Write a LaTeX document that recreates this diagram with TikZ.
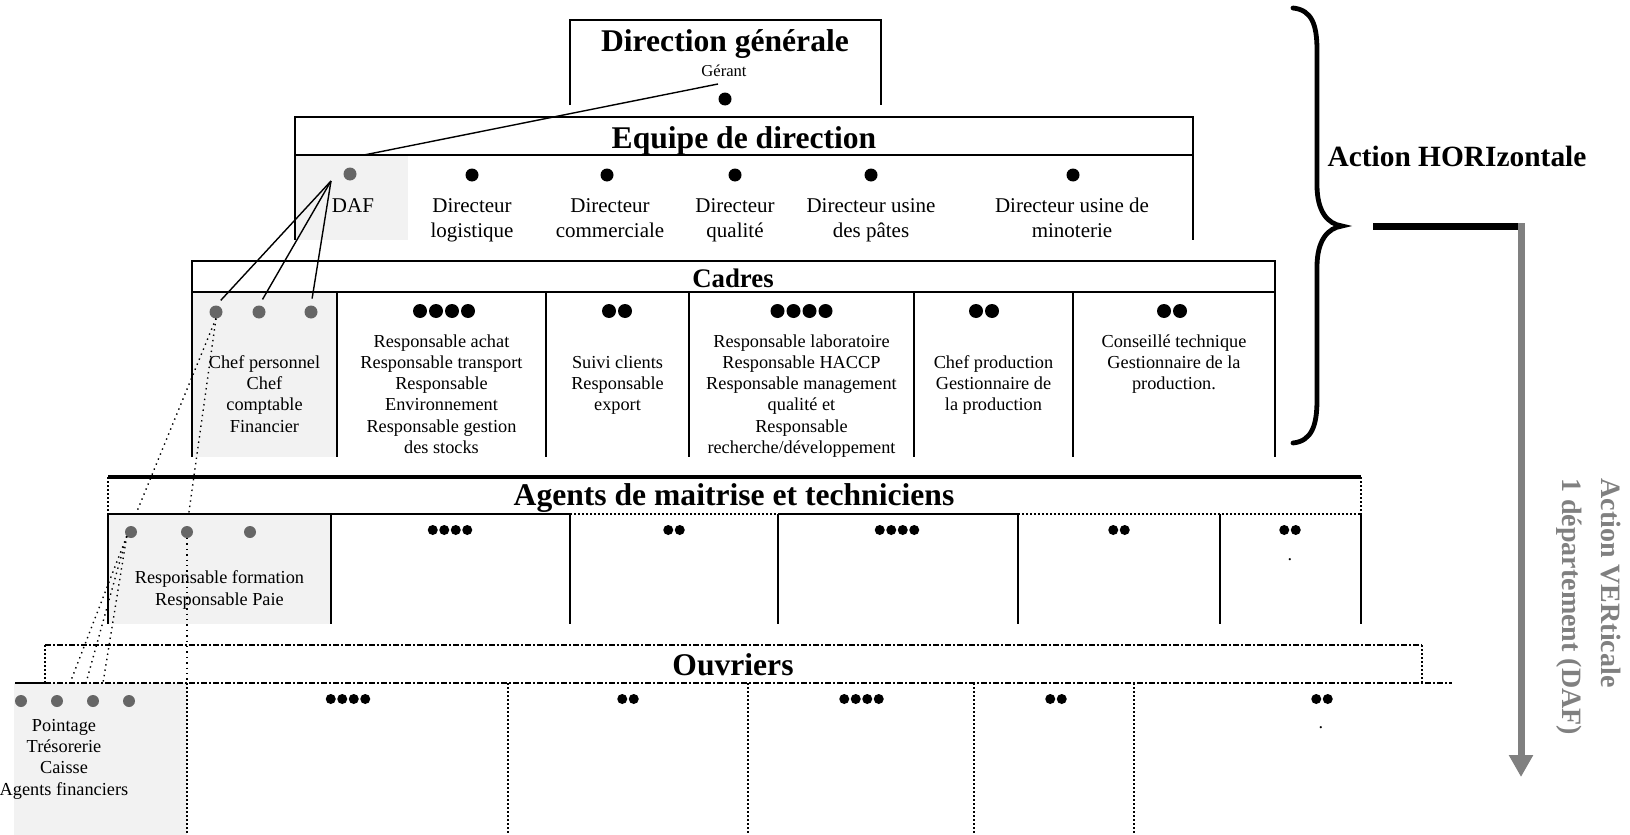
\documentclass[tikz,border=0pt]{standalone}
\usepackage{fontspec}
\setmainfont{Liberation Serif}
\usetikzlibrary{arrows.meta}
\definecolor{dafgray}{HTML}{666666}
\definecolor{cellgray}{HTML}{F2F2F2}
\definecolor{arrowgray}{HTML}{808080}
\newcommand{\fhead}{\fontsize{15.8}{18}\selectfont\bfseries}
\newcommand{\fcadres}{\fontsize{13.4}{16}\selectfont\bfseries}
\newcommand{\fequipe}{\fontsize{10.5}{12.5}\selectfont}
\newcommand{\fbody}{\fontsize{9.15}{10.65}\selectfont}
\newcommand{\fgerant}{\fontsize{8.3}{10}\selectfont}
\newcommand{\faction}{\fontsize{14.7}{17}\selectfont\bfseries}
\newcommand{\fvert}{\fontsize{14}{19.5}\selectfont\bfseries}
\tikzset{
  dot/.style = {circle, fill, minimum size=#1,
                inner sep=0pt, outer sep=0pt},
  dot/.default = 6pt,
  graydot/.style = {dot=#1, fill=dafgray},
  boxline/.style = {line width=1pt},
  dotline/.style = {line width=1pt, densely dotted},
  dashline/.style = {line width=1pt, densely dash dot},
  link/.style = {line width=0.7pt},
  dotlink/.style = {line width=0.7pt, dotted},
  title/.style = {font=\fhead, anchor=base, inner sep=0pt},
  txtequipe/.style = {font=\fequipe, anchor=base, align=center, inner sep=0pt},
  txtbody/.style = {font=\fbody, anchor=base, align=center, inner sep=0pt}
}
\begin{document}
\begin{tikzpicture}[x=0.5pt, y=-0.5pt]
	\def \rbig{7}
	\def \rmid{6.5}
	\def \rsmall{5}
	\useasboundingbox (0,0) rectangle (1630,835);

	% Gray cells (DAF column)
	\fill[cellgray] (295,155) rectangle (408,240);
	\fill[cellgray] (192,292) rectangle (337,457);
	\fill[cellgray] (109,514) rectangle (331,624);
	\fill[cellgray] (14,683) rectangle (187,835);

	% Direction generale
	\draw[boxline] (570,105) -- (570,20) -- (881,20) -- (881,105);
	\node[title] (dg) at (725,51) {Direction générale};
	\node[font=\fgerant, anchor=base, inner sep=0pt] (gerant) at (724,76) {Gérant};
	\fill (725,99) circle (\rmid);

	% Equipe de direction (base = last line)
	\draw[boxline] (295,240) -- (295,117) -- (1193,117) -- (1193,240);
	\draw[boxline] (295,155) -- (1193,155);
	\node[title] (equipe) at (744,148) {Equipe de direction};
	\node[graydot=6.5pt] (daf) at (350,174) {};
	\fill (472,175) circle (\rmid); % logistique
	\fill (607,175) circle (\rmid); % commerciale
	\fill (735,175) circle (\rmid); % qualite
	\fill (871,175) circle (\rmid); % pates
	\fill (1073,175) circle (\rmid); % minoterie
	\node[txtequipe] (daftxt) at (353,212) {DAF};
	\node[txtequipe] (dlog) at (472,237) {Directeur\\logistique};
	\node[txtequipe] (dcom) at (610,237) {Directeur\\commerciale};
	\node[txtequipe] (dqual) at (735,237) {Directeur\\qualité};
	\node[txtequipe] (dpat) at (871,237) {Directeur usine\\des pâtes};
	\node[txtequipe] (dmin) at (1072,237) {Directeur usine de\\minoterie};

	% Cadres
	\draw[boxline] (192,457) -- (192,261) -- (1275,261) -- (1275,457);
	\draw[boxline] (192,292) -- (1275,292);
	\draw[boxline] (337,292) -- (337,457);
	\draw[boxline] (546,292) -- (546,457);
	\draw[boxline] (689,292) -- (689,457);
	\draw[boxline] (914,292) -- (914,457);
	\draw[boxline] (1073,292) -- (1073,457);
	\node[font=\fcadres, anchor=base, inner sep=0pt] (cadres) at (733,287) {Cadres};
	\node[graydot=6.5pt] (c1) at (216,312) {};
	\node[graydot=6.5pt] (c2) at (259,312) {};
	\node[graydot=6.5pt] (c3) at (311,312) {};
	\fill (420,311) circle (\rbig) (436,311) circle (\rbig) (452,311) circle (\rbig) (468,311) circle (\rbig);
	\fill (609,311) circle (\rbig) (625,311) circle (\rbig);
	\fill (777.5,311) circle (\rbig) (793.5,311) circle (\rbig) (809.5,311) circle (\rbig) (825.5,311) circle (\rbig);
	\fill (976,311) circle (\rbig) (992,311) circle (\rbig);
	\fill (1164,311) circle (\rbig) (1180,311) circle (\rbig);
	\node[txtbody] (ctxt1) at (264.5,432.2) {Chef personnel\\Chef\\comptable\\Financier};
	\node[txtbody] (ctxt2) at (441.5,453.5) {Responsable achat\\Responsable transport\\Responsable\\Environnement\\Responsable gestion\\des stocks};
	\node[txtbody] (ctxt3) at (617.5,410.9) {Suivi clients\\Responsable\\export};
	\node[txtbody] (ctxt4) at (801.5,453.5) {Responsable laboratoire\\Responsable HACCP\\Responsable management\\qualité et\\Responsable\\recherche/développement};
	\node[txtbody] (ctxt5) at (993.5,410.9) {Chef production\\Gestionnaire de\\la production};
	\node[txtbody] (ctxt6) at (1174,389.6) {Conseillé technique\\Gestionnaire de la\\production.};

	% Agents de maitrise et techniciens
	\draw[boxline, line width=1.6pt] (108,477) -- (1361,477);
	\draw[dotline] (108,477) -- (108,514);
	\draw[dotline] (1361,477) -- (1361,514);
	\draw[boxline] (108,514) -- (570,514);
	\draw[dotline] (570,514) -- (778,514);
	\draw[boxline] (778,514) -- (1018,514);
	\draw[dotline] (1018,514) -- (1361,514);
	\draw[boxline] (108,514) -- (108,624);
	\draw[boxline] (331,514) -- (331,624);
	\draw[boxline] (570,514) -- (570,624);
	\draw[boxline, line width=1.4pt] (778,514) -- (778,624);
	\draw[boxline] (1018,514) -- (1018,624);
	\draw[boxline] (1220,514) -- (1220,624);
	\draw[boxline] (1361,514) -- (1361,624);
	\node[title] (agents) at (734,505) {Agents de maitrise et techniciens};
	\node[graydot=6pt] (a1) at (131,532) {};
	\node[graydot=6pt] (a2) at (187,532) {};
	\node[graydot=6pt] (a3) at (250,532) {};
	\fill (432.75,530) circle (\rsmall) (444.25,530) circle (\rsmall) (455.75,530) circle (\rsmall) (467.25,530) circle (\rsmall);
	\fill (668.25,530) circle (\rsmall) (679.75,530) circle (\rsmall);
	\fill (879.75,530) circle (\rsmall) (891.25,530) circle (\rsmall) (902.75,530) circle (\rsmall) (914.25,530) circle (\rsmall);
	\fill (1113.25,530) circle (\rsmall) (1124.75,530) circle (\rsmall);
	\fill (1284.25,530) circle (\rsmall) (1295.75,530) circle (\rsmall);
	\node[txtbody] (atxt1) at (219.5,605) {Responsable formation\\Responsable Paie};
	\node[txtbody] (apt) at (1290,560) {.};

	% Ouvriers
	\draw[dashline] (45,645) -- (1422,645);
	\draw[dotline] (45,645) -- (45,683);
	\draw[dotline] (1422,645) -- (1422,683);
	\draw[boxline, line width=1.4pt] (15,683) -- (45,683);
	\draw[dashline] (45,683) -- (1452,683);
	\draw[dotline] (187,683) -- (187,835);
	\draw[dotline] (508,683) -- (508,835);
	\draw[dotline] (748,683) -- (748,835);
	\draw[dotline] (974,683) -- (974,835);
	\draw[dotline] (1134,683) -- (1134,835);
	\node[title] (ouvriers) at (733,675) {Ouvriers};
	\node[graydot=6pt] (o1) at (21,701) {};
	\node[graydot=6pt] (o2) at (57,701) {};
	\node[graydot=6pt] (o3) at (93,701) {};
	\node[graydot=6pt] (o4) at (129,701) {};
	\fill (330.75,699) circle (\rsmall) (342.25,699) circle (\rsmall) (353.75,699) circle (\rsmall) (365.25,699) circle (\rsmall);
	\fill (622.25,699) circle (\rsmall) (633.75,699) circle (\rsmall);
	\fill (844.25,699) circle (\rsmall) (855.75,699) circle (\rsmall) (867.25,699) circle (\rsmall) (878.75,699) circle (\rsmall);
	\fill (1050.25,699) circle (\rsmall) (1061.75,699) circle (\rsmall);
	\fill (1316.25,699) circle (\rsmall) (1327.75,699) circle (\rsmall);
	\node[txtbody] (otxt1) at (64,795) {Pointage\\Trésorerie\\Caisse\\Agents financiers};
	\node[txtbody] (opt) at (1321,728) {.};

	% Liens DAF
	\coordinate (ger-out) at (718,84);
	\coordinate (daf-in) at (364,155);
	\coordinate (daf-out) at (331,181);
	\coordinate (o-in1) at (70,683);
	\coordinate (o-in2) at (86,683);
	\coordinate (o-in3) at (103,683);
	\coordinate (o-in4) at (187,683);
	\draw[link] (ger-out) -- (daf-in);
	\draw[link, shorten >=3.5pt] (daf-out) -- (c1.north);
	\draw[link, shorten >=3.5pt] (daf-out) -- (c2.north);
	\draw[link, shorten >=3.5pt] (daf-out) -- (c3.north);
	\draw[dotlink, shorten >=6.5pt] (c1.south) -- (a1.north);
	\draw[dotlink, shorten >=6.5pt] (c1.south) -- (a2.north);
	\draw[dotlink] (a1.south west) -- (o-in1);
	\draw[dotlink] (a1.south west) -- (o-in2);
	\draw[dotlink] (a1.south west) -- (o-in3);
	\draw[dotlink] (a2.south) -- (o-in4);

	% Action horizontale
	\draw[line width=2.4pt, line cap=round] (1293,8) .. controls (1312,10) and (1317,25) .. (1317,50) -- (1317,185)
		.. controls (1317,212) and (1328,224) .. (1342,226) .. controls (1328,228) and (1317,240) .. (1317,267)
		-- (1317,400) .. controls (1317,425) and (1312,441) .. (1293,443);
	\node[font=\faction, anchor=base, inner sep=0pt] (horiz) at (1457,166) {Action HORIzontale};

	% Action verticale
	\coordinate (bar-start) at (1373,226);
	\coordinate (bar-end) at (1519,226);
	\coordinate (arr-start) at (1521,223);
	\coordinate (arr-end) at (1521,777);
	\draw[line width=3.5pt] (bar-start) -- (bar-end);
	\draw[line width=3.5pt, arrowgray, -{Triangle[width=11.5pt,length=11pt]}] (arr-start) -- (arr-end);
	\node[font=\fvert, text=arrowgray, rotate=-90, anchor=base west, align=left, inner sep=0pt] (vert) at (1562,478) {Action VERticale\\1 département (DAF)};
\end{tikzpicture}
\end{document}
